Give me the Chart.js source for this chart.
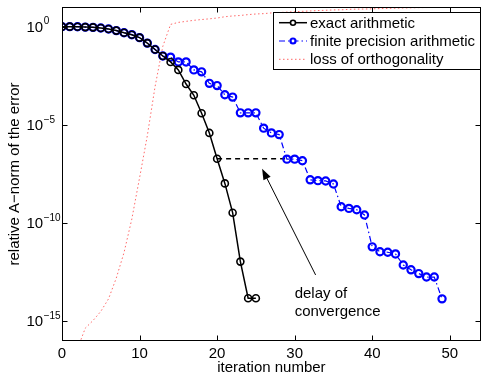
<!DOCTYPE html>
<html>
<head>
<meta charset="utf-8">
<script src="https://cdn.jsdelivr.net/npm/chart.js@4.4.0/dist/chart.umd.min.js"></script>
<style>
html, body { margin: 0; padding: 0; overflow: hidden; background: #fff; }
#wrap { width: 487px; height: 373px; }
</style>
</head>
<body>
<div id="wrap"><canvas id="chart" width="487" height="373"></canvas></div>
<script>
// iterations
const exactIter = [0, 1, 2, 3, 4, 5, 6, 7, 8, 9, 10, 11, 12, 13, 14, 15, 16, 17, 18, 19, 20, 21, 22, 23, 24, 25];
const finiteIter = [0, 1, 2, 3, 4, 5, 6, 7, 8, 9, 10, 11, 12, 13, 14, 15, 16, 17, 18, 19, 20, 21, 22, 23, 24,
  25, 26, 27, 28, 29, 30, 31, 32, 33, 34, 35, 36, 37, 38, 39, 40, 41, 42, 43, 44, 45, 46, 47, 48, 49];
const orthIter = [1, 2, 3, 4, 5, 6, 7, 8, 9, 10, 11, 12, 13, 14, 15, 16, 17, 18, 19, 20, 21, 22, 23, 24, 25,
  26, 27, 28, 29, 30, 31, 32, 33, 34, 35, 36, 37, 38, 39, 40, 41, 42, 43, 44, 45, 46, 47, 48, 49];

// relative A-norm of the error
const exactErr = [1.0, 1.0, 0.99, 0.95, 0.92, 0.85, 0.76, 0.63, 0.49, 0.39, 0.275, 0.145, 0.069, 0.032,
  0.016, 6.3e-3, 1.2e-3, 3.2e-4, 3.9e-5, 3.9e-6, 1.9e-7, 1.05e-8, 3.4e-10, 1.1e-12, 1.5e-14, 1.5e-14];
const finiteErr = [1.0, 1.0, 0.99, 0.95, 0.92, 0.85, 0.76, 0.63, 0.49, 0.39, 0.275, 0.145, 0.069, 0.032,
  0.028, 0.016, 0.016, 6.3e-3, 5.0e-3, 1.3e-3, 1.0e-3, 3.4e-4, 2.6e-4, 4.1e-5, 4.1e-5,
  4.1e-5, 6.8e-6, 3.9e-6, 3.2e-6, 1.8e-7, 1.8e-7, 1.5e-7, 1.6e-8, 1.45e-8, 1.4e-8,
  9.8e-9, 6.8e-10, 5.6e-10, 4.8e-10, 2.6e-10, 6.2e-12, 3.5e-12, 3.3e-12, 2.7e-12,
  7.4e-13, 4.2e-13, 2.7e-13, 1.8e-13, 1.8e-13, 1.4e-14];
const orthLoss = [1e-17, 4e-17, 4.5e-16, 1.1e-15, 3.2e-15, 1.4e-14, 1.6e-13, 3.2e-12, 1.6e-10, 2e-8,
  2.8e-6, 8.9e-4, 0.1, 1.3, 1.65, 1.86, 2.1, 2.3, 2.5, 2.75, 3.2, 3.5, 3.7, 4.1, 4.4,
  4.6, 5.0, 5.2, 5.5, 5.8, 6.0, 6.3, 6.6, 6.8, 7.1, 7.2, 7.6, 7.8, 7.9, 8.1,
  8.3, 8.5, 8.7, 8.9, 9.1, 9.3, 9.4, 9.5, 9.7];

// delay of convergence marker: from exact iteration 20 to finite iteration 29
const delayIter = [20, 29];

const xTicks = [0, 10, 20, 30, 40, 50];
const yTicks = [1e0, 1e-5, 1e-10, 1e-15];
const yTickExp = ['0', '\u22125', '\u221210', '\u221215'];

const FONT = '"Liberation Sans", Arial, Helvetica, sans-serif';

function pts(xs, ys) {
  return xs.map((x, i) => ({ x: x, y: ys[i] }));
}

const arrowFrom = { x: 32.7, y: 2.3e-13 };
const arrowTo = { x: 25.8, y: 5.9e-8 };
const noteAt = { x: 30, y: 2.5e-14 };
const noteLines = ['delay of', 'convergence'];

const decorPlugin = {
  id: 'decor',
  afterDraw(chart) {
    const ctx = chart.ctx;
    const a = chart.chartArea;
    const xs = chart.scales.x, ys = chart.scales.y;
    ctx.save();

    // axes box with inward ticks
    ctx.strokeStyle = '#000';
    ctx.lineWidth = 1;
    ctx.setLineDash([]);
    const L = Math.round(a.left) + 0.5, R = Math.round(a.right) - 0.5;
    const T = Math.round(a.top) + 0.5, B = Math.round(a.bottom) - 0.5;
    ctx.strokeRect(L, T, R - L, B - T);
    ctx.beginPath();
    xTicks.forEach(v => {
      const px = Math.round(xs.getPixelForValue(v)) + 0.5;
      ctx.moveTo(px, B); ctx.lineTo(px, B - 5);
      ctx.moveTo(px, T); ctx.lineTo(px, T + 5);
    });
    yTicks.forEach(v => {
      const py = Math.round(ys.getPixelForValue(v)) + 0.5;
      ctx.moveTo(L, py); ctx.lineTo(L + 5, py);
      ctx.moveTo(R, py); ctx.lineTo(R - 5, py);
    });
    ctx.stroke();

    // y tick labels 10^k
    ctx.fillStyle = '#000';
    ctx.textBaseline = 'middle';
    ctx.textAlign = 'left';
    yTicks.forEach((v, i) => {
      const py = ys.getPixelForValue(v);
      ctx.font = '15px ' + FONT;
      ctx.fillText('10', 26.5, py + 1);
      const w = ctx.measureText('10').width;
      ctx.font = '10px ' + FONT;
      ctx.fillText(yTickExp[i], 26.5 + w + 0.5, py - 5);
    });

    // arrow
    const x1 = xs.getPixelForValue(arrowFrom.x), y1 = ys.getPixelForValue(arrowFrom.y);
    const x2 = xs.getPixelForValue(arrowTo.x), y2 = ys.getPixelForValue(arrowTo.y);
    const ang = Math.atan2(y2 - y1, x2 - x1);
    ctx.beginPath();
    ctx.moveTo(x1, y1);
    ctx.lineTo(x2 - 6 * Math.cos(ang), y2 - 6 * Math.sin(ang));
    ctx.stroke();
    ctx.beginPath();
    ctx.moveTo(x2, y2);
    ctx.lineTo(x2 - 11 * Math.cos(ang) + 4 * Math.sin(ang), y2 - 11 * Math.sin(ang) - 4 * Math.cos(ang));
    ctx.lineTo(x2 - 11 * Math.cos(ang) - 4 * Math.sin(ang), y2 - 11 * Math.sin(ang) + 4 * Math.cos(ang));
    ctx.closePath();
    ctx.fill();

    // note text
    ctx.font = '15px ' + FONT;
    const nx = xs.getPixelForValue(noteAt.x), ny = ys.getPixelForValue(noteAt.y);
    noteLines.forEach((t, i) => ctx.fillText(t, nx, ny + i * 18));

    // legend
    const lx = 273.5, ly = 12.5, lw = 207, lh = 57;
    ctx.fillStyle = '#fff';
    ctx.fillRect(lx, ly, lw, lh);
    ctx.strokeStyle = '#000';
    ctx.lineWidth = 1;
    ctx.strokeRect(lx, ly, lw, lh);
    const rowY = [22.7, 41, 59.3];
    chart.data.datasets.slice(0, 3).forEach((ds, i) => {
      const y = rowY[i];
      ctx.strokeStyle = ds.borderColor;
      ctx.lineWidth = ds.borderWidth;
      ctx.setLineDash(ds.borderDash || []);
      ctx.beginPath();
      ctx.moveTo(279, y); ctx.lineTo(307, y);
      ctx.stroke();
      ctx.setLineDash([]);
      if (ds.pointRadius > 0) {
        ctx.lineWidth = ds.pointBorderWidth;
        ctx.beginPath();
        ctx.arc(293, y, 2.5, 0, Math.PI * 2);
        ctx.fillStyle = '#fff';
        ctx.fill();
        ctx.stroke();
      }
      ctx.fillStyle = '#000';
      ctx.font = '15px ' + FONT;
      ctx.fillText(ds.label, 310, y + 1);
    });
    ctx.restore();
  }
};

new Chart(document.getElementById('chart'), {
  type: 'line',
  data: {
    datasets: [
      {
        label: 'exact arithmetic',
        data: pts(exactIter, exactErr),
        borderColor: '#000',
        borderWidth: 1.5,
        pointRadius: 3.5,
        pointBorderWidth: 1.6,
        pointBackgroundColor: 'rgba(0,0,0,0)',
        pointBorderColor: '#000'
      },
      {
        label: 'finite precision arithmetic',
        data: pts(finiteIter, finiteErr),
        borderColor: '#0000ff',
        borderWidth: 1.2,
        borderDash: [6, 3, 1.5, 3],
        pointRadius: 3.6,
        pointBorderWidth: 2.2,
        pointBackgroundColor: 'rgba(0,0,0,0)',
        pointBorderColor: '#0000ff'
      },
      {
        label: 'loss of orthogonality',
        data: pts(orthIter, orthLoss),
        borderColor: 'rgba(255,40,40,0.7)',
        borderWidth: 1,
        borderDash: [1.5, 2.5],
        pointRadius: 0
      },
      {
        label: 'delay',
        data: delayIter.map(x => ({ x: x, y: exactErr[20] })),
        borderColor: '#000',
        borderWidth: 1.5,
        borderDash: [5, 4],
        pointRadius: 0
      }
    ]
  },
  options: {
    responsive: false,
    animation: false,
    layout: { padding: { top: 7, right: 0, left: 0, bottom: 0 } },
    plugins: { legend: { display: false }, tooltip: { enabled: false } },
    scales: {
      x: {
        type: 'linear',
        min: 0,
        max: 54,
        afterBuildTicks: s => { s.ticks = xTicks.map(v => ({ value: v })); },
        afterFit: s => { s.height = 32; },
        grid: { display: false, drawTicks: false },
        border: { display: false },
        ticks: { color: '#000', font: { family: FONT, size: 15 }, padding: 4, maxRotation: 0 },
        title: { display: true, text: 'iteration number', color: '#000', font: { family: FONT, size: 15 }, padding: { top: 0, bottom: -4 } }
      },
      y: {
        type: 'logarithmic',
        min: 1e-16,
        max: 1e1,
        afterBuildTicks: s => { s.ticks = yTicks.map(v => ({ value: v })); },
        afterFit: s => { s.width = 62; },
        grid: { display: false, drawTicks: false },
        border: { display: false },
        ticks: { display: false },
        title: { display: true, text: 'relative A\u2212norm of the error', color: '#000', font: { family: FONT, size: 15 }, padding: { top: 6, bottom: 0 } }
      }
    }
  },
  plugins: [decorPlugin]
});
</script>
</body>
</html>
